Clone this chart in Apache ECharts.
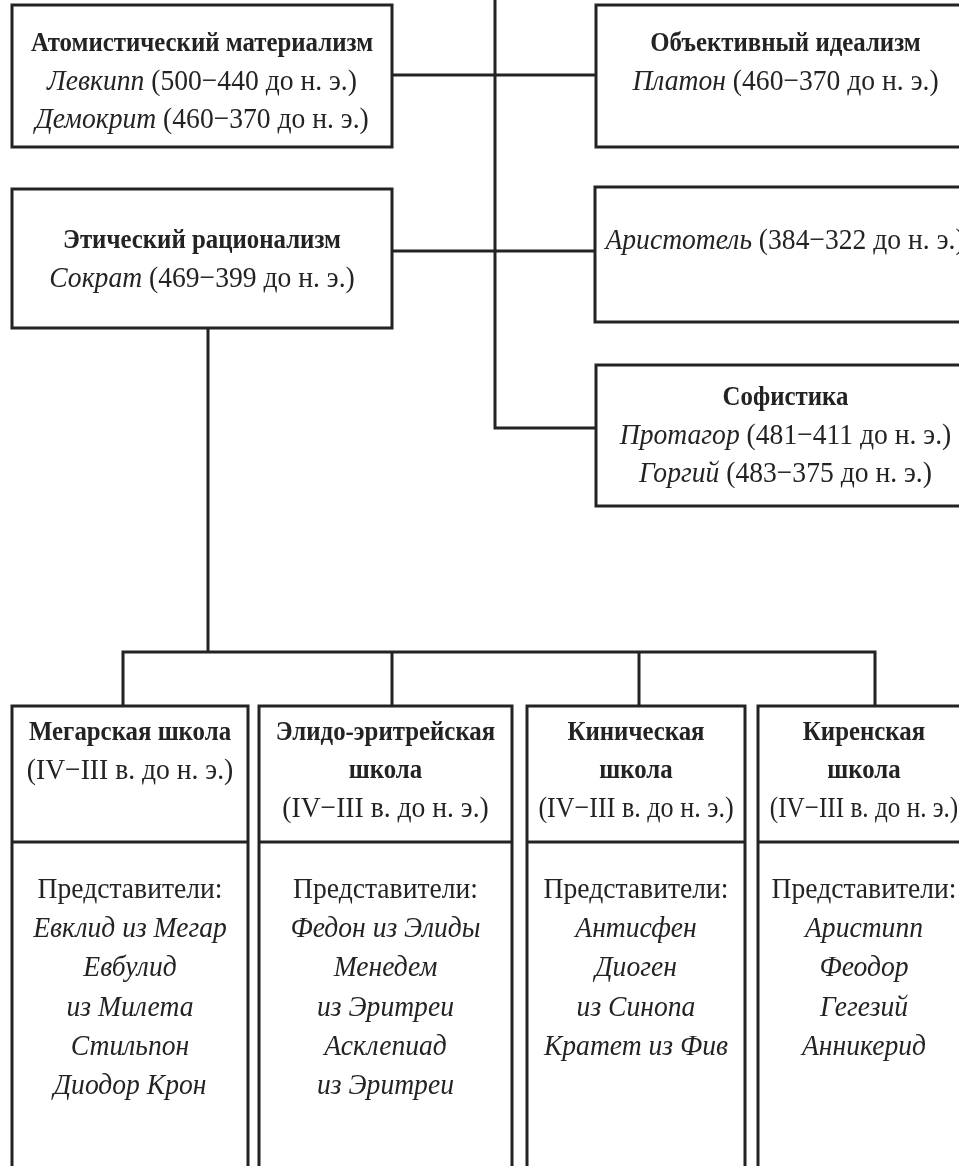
<!DOCTYPE html>
<html>
<head>
<meta charset="utf-8">
<title>Античная философия</title>
<script src="https://cdn.jsdelivr.net/npm/echarts@6/dist/echarts.min.js"></script>
<style>
  html, body { margin: 0; padding: 0; background: #fff; }
  #chart { width: 959px; height: 1166px; }
</style>
</head>
<body>
<div id="chart"></div>
<script>
// содержание схемы
const topTitles = ['Атомистический материализм', 'Объективный идеализм', 'Этический рационализм', '', 'Софистика'];
const topThinkers = [
  ['Левкипп', 'Демокрит'],
  ['Платон'],
  ['Сократ'],
  ['Аристотель'],
  ['Протагор', 'Горгий']
];
const topYears = [
  ['(500−440 до н. э.)', '(460−370 до н. э.)'],
  ['(460−370 до н. э.)'],
  ['(469−399 до н. э.)'],
  ['(384−322 до н. э.)'],
  ['(481−411 до н. э.)', '(483−375 до н. э.)']
];
const schoolTitles = [
  ['Мегарская школа'],
  ['Элидо-эритрейская', 'школа'],
  ['Киническая', 'школа'],
  ['Киренская', 'школа']
];
const schoolPeriods = ['(IV−III в. до н. э.)', '(IV−III в. до н. э.)', '(IV−III в. до н. э.)', '(IV−III в. до н. э.)'];
const repsLabel = 'Представители:';
const schoolReps = [
  ['Евклид из Мегар', 'Евбулид', 'из Милета', 'Стильпон', 'Диодор Крон'],
  ['Федон из Элиды', 'Менедем', 'из Эритреи', 'Асклепиад', 'из Эритреи'],
  ['Антисфен', 'Диоген', 'из Синопа', 'Кратет из Фив'],
  ['Аристипп', 'Феодор', 'Гегезий', 'Анникерид']
];

// раскладка: [x0, y0, x1, y1, y первой строки]
const topBoxes = [
  [12, 5, 392, 147, 44],
  [596, 5, 975, 147, 44],
  [12, 189, 392, 328, 241],
  [595, 187, 975, 322, 241],
  [596, 365, 975, 506, 398]
];
const schoolX = [[12, 248], [259, 512], [527, 745], [758, 970]];
const periodSqueeze = [0.92, 0.92, 0.87, 0.84];
const schoolTop = 706, schoolDivider = 842, schoolBottom = 1200;
const headY = 733, repsY = 890, lineStep = 38, repsStep = 39.3;
const links = [
  [[495, -10], [495, 428], [596, 428]],
  [[392, 75], [596, 75]],
  [[392, 251], [595, 251]],
  [[208, 328], [208, 652]],
  [[123, 706], [123, 652], [875, 652], [875, 706]],
  [[392, 652], [392, 706]],
  [[639, 652], [639, 706]]
];

const ink = '#232323';
const font = 'Liberation Serif';
const fs = 30;
const sx = 0.92;
const rich = {
  b: { fontFamily: font, fontSize: 27, fontWeight: 'bold', fill: ink },
  i: { fontFamily: font, fontSize: fs, fontStyle: 'italic', fill: ink },
  n: { fontFamily: font, fontSize: fs, fill: ink }
};

function textLine(p, str, scale) {
  return {
    type: 'text', x: p[0], y: p[1], scaleX: scale || sx,
    style: { text: str, rich: rich, fontFamily: font, fontSize: fs, fill: ink, align: 'center', verticalAlign: 'middle' }
  };
}

let myChart = echarts.init(document.getElementById('chart'));
myChart.setOption({
  backgroundColor: '#fff',
  animation: false,
  grid: { left: 0, right: 0, top: 0, bottom: 0 },
  xAxis: { type: 'value', min: 0, max: 959, show: false },
  yAxis: { type: 'value', min: 0, max: 1166, inverse: true, show: false },
  series: [
    {
      // соединительные линии
      type: 'custom',
      data: links.map((l, i) => [i]),
      renderItem: function (params, api) {
        const pts = links[params.dataIndex].map(p => api.coord(p));
        return { type: 'polyline', shape: { points: pts }, style: { stroke: ink, lineWidth: 3, fill: null } };
      }
    },
    {
      // верхние рамки
      type: 'custom',
      data: topBoxes.map((b, i) => [i]),
      renderItem: function (params, api) {
        const i = params.dataIndex;
        const b = topBoxes[i];
        const p0 = api.coord([b[0], b[1]]);
        const p1 = api.coord([b[2], b[3]]);
        const cx = (b[0] + b[2]) / 2;
        const lines = [];
        if (topTitles[i]) lines.push('{b|' + topTitles[i] + '}');
        topThinkers[i].forEach((t, k) => lines.push('{i|' + t + '} {n|' + topYears[i][k] + '}'));
        const children = [{
          type: 'rect',
          shape: { x: p0[0], y: p0[1], width: p1[0] - p0[0], height: p1[1] - p0[1] },
          style: { fill: '#fff', stroke: ink, lineWidth: 3 }
        }];
        lines.forEach((s, k) => children.push(textLine(api.coord([cx, b[4] + k * lineStep]), s)));
        return { type: 'group', children: children };
      }
    },
    {
      // школы сократиков
      type: 'custom',
      data: schoolX.map((b, i) => [i]),
      renderItem: function (params, api) {
        const i = params.dataIndex;
        const b = schoolX[i];
        const p0 = api.coord([b[0], schoolTop]);
        const p1 = api.coord([b[1], schoolBottom]);
        const pd = api.coord([b[0], schoolDivider]);
        const cx = (b[0] + b[1]) / 2;
        const head = schoolTitles[i].map(t => '{b|' + t + '}');
        const reps = ['{n|' + repsLabel + '}'].concat(schoolReps[i].map(t => '{i|' + t + '}'));
        const children = [
          { type: 'rect', shape: { x: p0[0], y: p0[1], width: p1[0] - p0[0], height: p1[1] - p0[1] },
            style: { fill: '#fff', stroke: ink, lineWidth: 3 } },
          { type: 'line', shape: { x1: p0[0], y1: pd[1], x2: p1[0], y2: pd[1] },
            style: { stroke: ink, lineWidth: 3 } }
        ];
        head.forEach((s, k) => children.push(textLine(api.coord([cx, headY + k * lineStep]), s)));
        children.push(textLine(api.coord([cx, headY + head.length * lineStep]),
          '{n|' + schoolPeriods[i] + '}', periodSqueeze[i]));
        reps.forEach((s, k) => children.push(textLine(api.coord([cx, repsY + k * repsStep]), s)));
        return { type: 'group', children: children };
      }
    }
  ]
});
</script>
</body>
</html>
